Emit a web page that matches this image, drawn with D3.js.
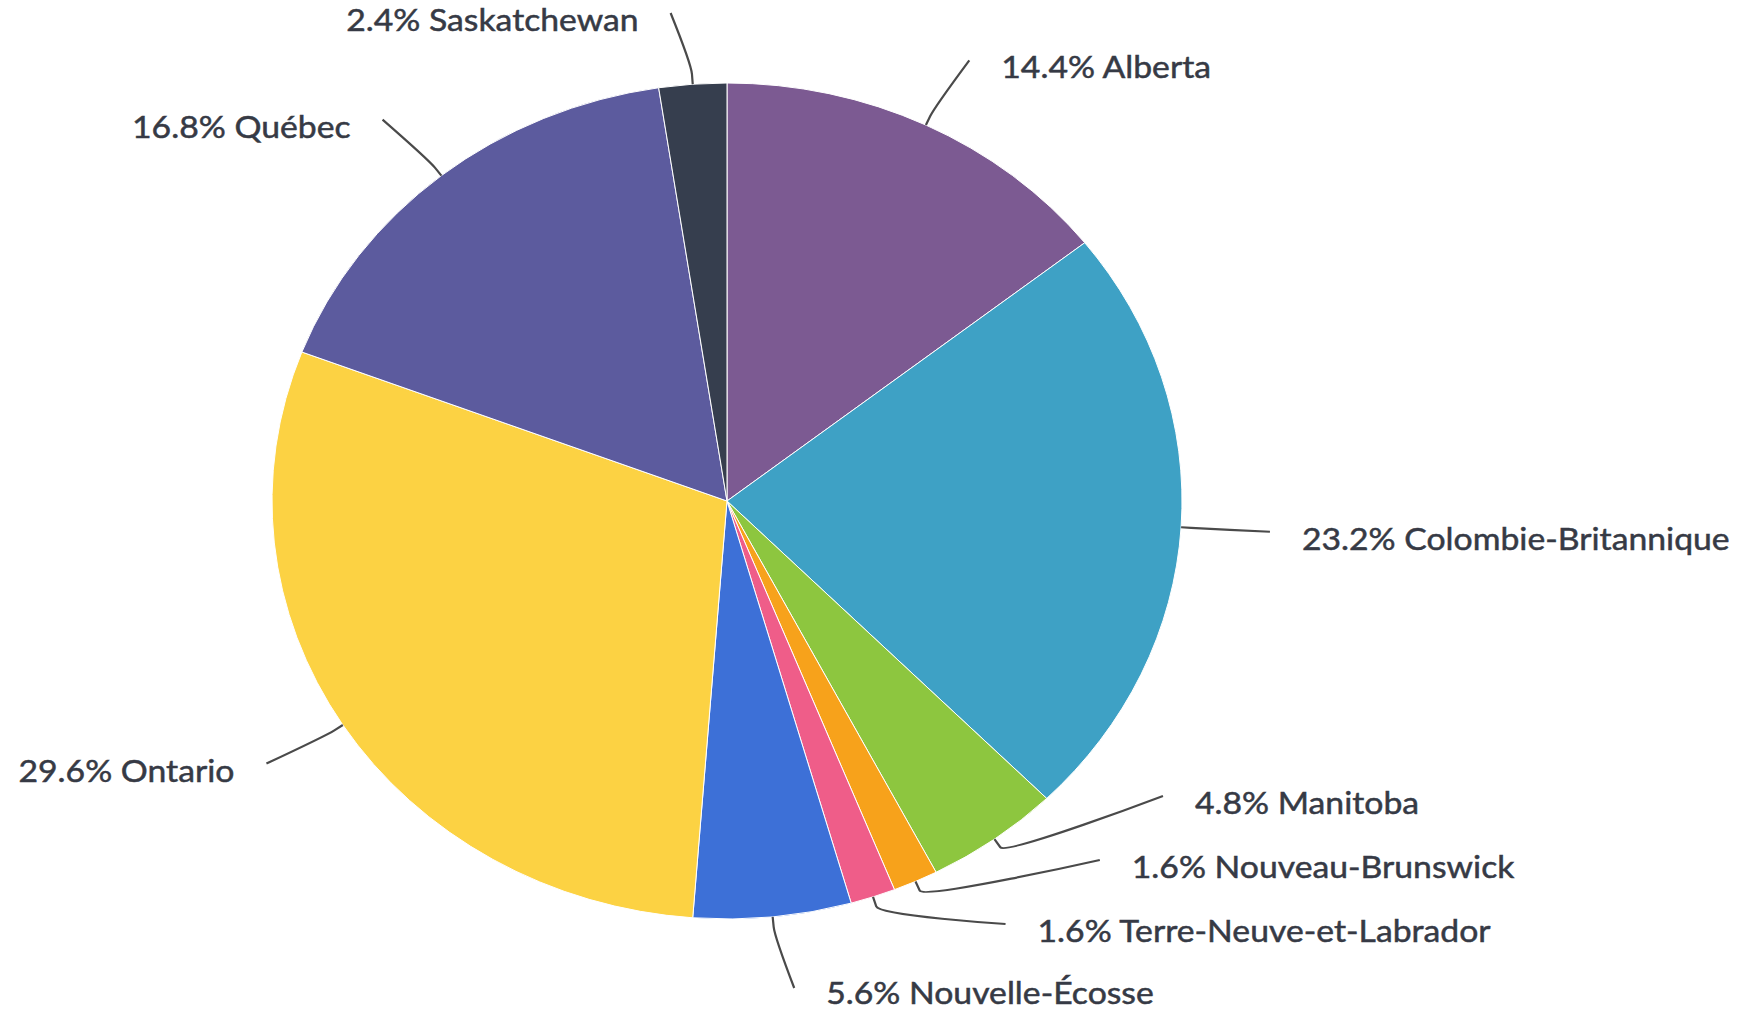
<!DOCTYPE html>
<html>
<head>
<meta charset="utf-8">
<script src="https://cdn.jsdelivr.net/npm/d3@7"></script>
<style>
  html, body { margin: 0; padding: 0; background: #ffffff; }
  svg { display: block; }
  text { font-family: Lato, "Open Sans", sans-serif; }
</style>
</head>
<body>
<svg id="chart" width="1740" height="1011"></svg>
<script>
// ---- data ----
const provinces = ["Alberta", "Colombie-Britannique", "Manitoba", "Nouveau-Brunswick",
  "Terre-Neuve-et-Labrador", "Nouvelle-Écosse", "Ontario", "Québec", "Saskatchewan"];
const shares = [14.4, 23.2, 4.8, 1.6, 1.6, 5.6, 29.6, 16.8, 2.4];
const colors = ["#7c5a92", "#3ea1c5", "#8dc63f", "#f7a21b", "#ef5d89", "#3d70d7", "#fcd243", "#5c5b9e", "#363e4e"];

// ---- layout ----
const W = 1740, H = 1011;
const cx = 727, cy = 501, rx = 455, ry = 418;
const stretch = rx / ry;          // horizontal stretch of the whole picture
const LRx = 536, LRy = 490;       // label ellipse
const pad = 8;
const gap = 64;                   // label spacing
const minY = 13, maxY = 988;
const fontSize = 31;
const ascent = Math.ceil(fontSize * 0.99), descent = Math.ceil(fontSize * 0.22);

const svg = d3.select("#chart");
const pie = d3.pie().sort(null).value(d => d)(shares);
const arc = d3.arc().innerRadius(0).outerRadius(ry);

const g = svg.append("g").attr("transform", `translate(${cx},${cy}) scale(${stretch},1)`);
g.selectAll("path.slice").data(pie).join("path")
  .attr("class", "slice")
  .attr("d", arc)
  .attr("fill", (d, i) => colors[i])
  .attr("stroke", "#ffffff")
  .attr("stroke-width", 1)
  .attr("vector-effect", "non-scaling-stroke");

// label positions
const labels = pie.map((d, i) => {
  const a = (d.startAngle + d.endAngle) / 2;
  const s = Math.sin(a), c = -Math.cos(a);
  return {
    i, a, s, c,
    right: s >= 0,
    tx: cx + rx * s, ty: cy + ry * c,
    bx: cx + (rx + 10) * s, by: cy + (ry + 10) * c,
    ny: cy + LRy * c,
    text: `${shares[i]}% ${provinces[i]}`
  };
});

function distribute(items) {
  items.sort((a, b) => a.ny - b.ny);
  let clusters = items.map(it => ({ items: [it] }));
  const place = cl => {
    const n = cl.items.length;
    let y = d3.mean(cl.items, (it, k) => it.ny - k * gap);
    y = Math.max(minY, Math.min(maxY - (n - 1) * gap, y));
    cl.y = y;
  };
  clusters.forEach(place);
  let merged = true;
  while (merged) {
    merged = false;
    for (let k = 0; k < clusters.length - 1; k++) {
      const a = clusters[k], b = clusters[k + 1];
      if (a.y + a.items.length * gap > b.y) {
        const m = { items: a.items.concat(b.items) };
        place(m);
        clusters.splice(k, 2, m);
        merged = true;
        break;
      }
    }
  }
  clusters.forEach(cl => cl.items.forEach((it, k) => { it.y = cl.y + k * gap; }));
}
distribute(labels.filter(l => l.right));
distribute(labels.filter(l => !l.right));

labels.forEach(l => {
  const dy = Math.max(-1, Math.min(1, (l.y - cy) / LRy));
  l.x = cx + (l.right ? 1 : -1) * (LRx * Math.sqrt(1 - dy * dy) + pad);
  l.baseline = Math.max(ascent, Math.min(H - descent, l.y + 18));
});

const conn = svg.append("g");
conn.selectAll("path").data(labels).join("path")
  .attr("d", l => {
    const c2x = 2 * l.bx - l.tx, c2y = 2 * l.by - l.ty;
    return `M${l.x},${l.y} C${l.x},${l.y} ${c2x},${c2y} ${l.bx},${l.by} L${l.tx},${l.ty}`;
  })
  .attr("fill", "none")
  .attr("stroke", "#4a4a4a")
  .attr("stroke-width", 2.2);

svg.append("g").selectAll("text").data(labels).join("text")
  .attr("transform", l => `translate(${l.x + (l.right ? 32 : -32)},${l.baseline}) scale(${stretch},1)`)
  .attr("text-anchor", l => l.right ? "start" : "end")
  .attr("font-size", fontSize)
  .attr("fill", "#363a45")
  .attr("stroke", "#363a45")
  .attr("stroke-width", 0.5)
  .text(l => l.text);
</script>
</body>
</html>
